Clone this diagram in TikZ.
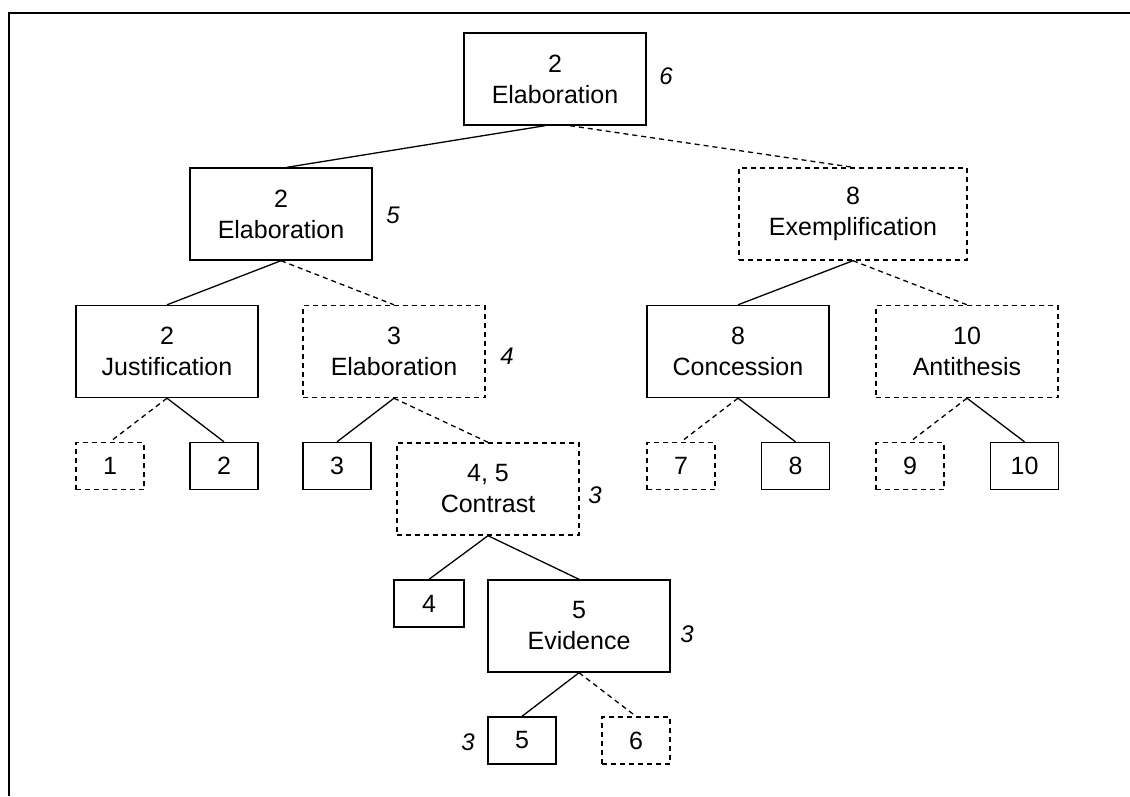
\documentclass[tikz,border=0pt]{standalone}
\usepackage{fontspec}
\setmainfont{Liberation Sans}
\usetikzlibrary{calc}
\begin{document}
\begin{tikzpicture}[x=1pt,y=-1pt,
  box/.style={draw, line width=1.4pt, inner sep=0pt, align=center,
    font=\fontsize{25}{31}\selectfont, minimum width=182pt, minimum height=92pt},
  leaf/.style={box, minimum width=68pt, minimum height=47pt},
  dbox/.style={dash pattern=on 5pt off 4pt},
  sol/.style={line width=1.3pt},
  dsh/.style={line width=1.3pt, dash pattern=on 5pt off 4pt},
  lab/.style={font=\fontsize{24}{24}\selectfont\itshape, inner sep=0pt}]
\useasboundingbox (0,0) rectangle (1130,796);
\draw[line width=2.2pt] (1130,13) -- (9,13) -- (9,796);

\node[box] (root) at (555,79) {2\\Elaboration};
\node[box] (elabA) at (281,214) {2\\Elaboration};
\node[box, dbox, minimum width=228pt] (exem) at (853,214) {8\\Exemplification};
\node[box] (just) at (167,351.5) {2\\Justification};
\node[box, dbox] (elabB) at (394,351.5) {3\\Elaboration};
\node[box] (conc) at (738,351.5) {8\\Concession};
\node[box, dbox] (anti) at (967,351.5) {10\\Antithesis};
\node[leaf, dbox] (l1) at (110,466) {1};
\node[leaf] (l2) at (224,466) {2};
\node[leaf] (l3) at (337,466) {3};
\node[leaf, dbox] (l7) at (681,466) {7};
\node[leaf] (l8) at (795.5,466) {8};
\node[leaf, dbox] (l9) at (910,466) {9};
\node[leaf] (l10) at (1024.5,466) {10};
\node[box, dbox] (contr) at (488,489) {4, 5\\Contrast};
\node[leaf, minimum width=70pt] (l4) at (429,603.5) {4};
\node[box] (evid) at (579,626) {5\\Evidence};
\node[leaf] (l5) at (522,740.5) {5};
\node[leaf, dbox] (l6) at (636,740.5) {6};

\node[lab] (n6) at (666,76) {6};
\node[lab] (n5) at (393,215) {5};
\node[lab] (n4) at (507,356) {4};
\node[lab] (n3a) at (595,495) {3};
\node[lab] (n3b) at (687,634) {3};
\node[lab] (n3c) at (468,742) {3};

\draw[sol] ([xshift=-10pt]root.south) -- ([xshift=6pt]elabA.north);
\draw[dsh] ([xshift=15pt]root.south) -- (exem.north);
\draw[sol] (elabA.south) -- (just.north);
\draw[dsh] (elabA.south) -- (elabB.north);
\draw[sol] (exem.south) -- (conc.north);
\draw[dsh] (exem.south) -- (anti.north);
\draw[dsh] (just.south) -- (l1.north);
\draw[sol] (just.south) -- (l2.north);
\draw[sol] (elabB.south) -- (l3.north);
\draw[dsh] (elabB.south) -- (contr.north);
\draw[dsh] (conc.south) -- (l7.north);
\draw[sol] (conc.south) -- (l8.north);
\draw[dsh] (anti.south) -- (l9.north);
\draw[sol] (anti.south) -- (l10.north);
\draw[sol] (contr.south) -- (l4.north);
\draw[sol] (contr.south) -- (evid.north);
\draw[sol] (evid.south) -- (l5.north);
\draw[dsh] (evid.south) -- (l6.north);
\end{tikzpicture}
\end{document}
